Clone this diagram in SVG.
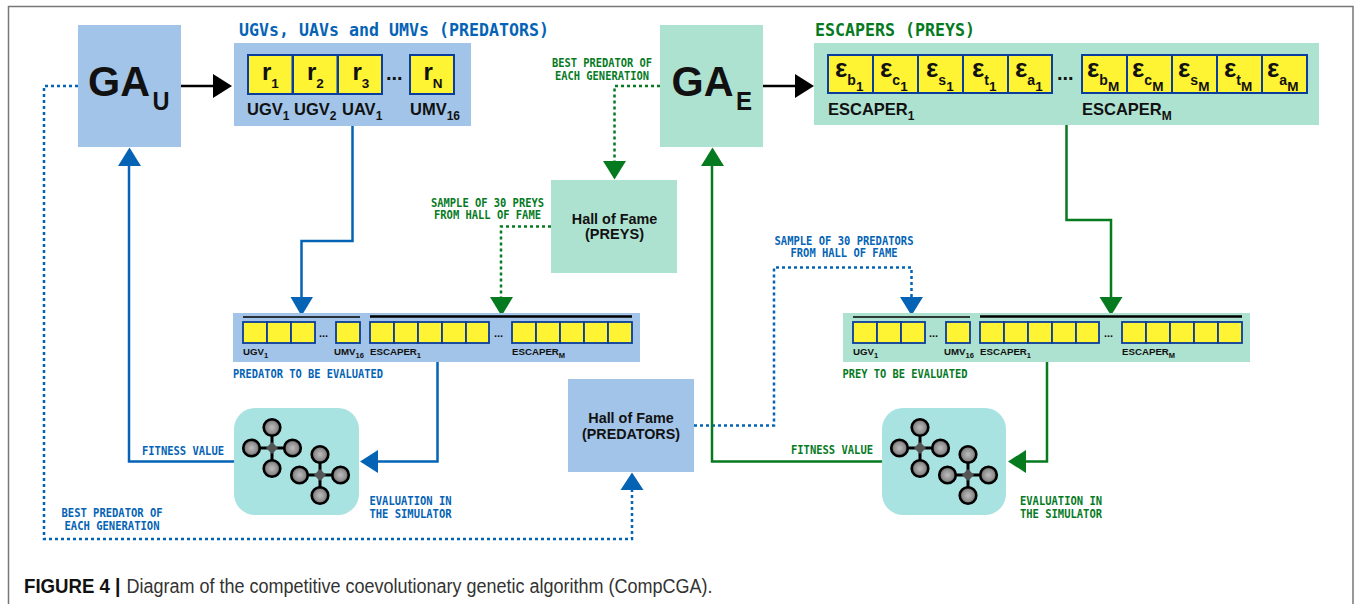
<svg xmlns="http://www.w3.org/2000/svg" width="1354" height="604" viewBox="0 0 1354 604">
<style>
.pb{fill:#a2c4e8}.pg{fill:#aee2d0}.sim{fill:#a8e3e2}
.cell{fill:#fff433;stroke:#0a3d9c;stroke-width:2}
.mini{fill:#fff433;stroke:#0a3d9c;stroke-width:1.800}
text{font-family:"Liberation Sans",Arial,sans-serif;fill:#111}
.ga{font-size:43px;font-weight:700}.gas{font-size:26px;font-weight:700}
.sym{font-size:24px;font-weight:700}.eps{font-size:26px;font-weight:700}
.s1{font-size:13.500px;font-weight:700}.s2{font-size:14px;font-weight:700}
.lab{font-size:16.500px;font-weight:700}.lsub{font-size:12px;font-weight:700}
.ml{font-size:9.700px;font-weight:700}.mls{font-size:7.500px;font-weight:700}
.h{font-size:15.500px;font-weight:700;text-anchor:middle}
.dots{font-size:20px;font-weight:700}.mdots{font-size:11px;font-weight:700}
.title{font-family:"DejaVu Sans Mono",monospace;font-size:17.500px;font-weight:700}
.t{font-family:"DejaVu Sans Mono",monospace;font-size:12px;font-weight:700}
.mid{text-anchor:middle}
.blue{fill:#0563b5}.green{fill:#067a1f}
.cn{fill:none;stroke-width:2.500}
.cb{stroke:#0563b5}.cg{stroke:#067a1f}.ck{stroke:#000}
.dot{stroke-dasharray:3 3}
.hb{fill:#0563b5}.hg{fill:#067a1f}.hk{fill:#000}
.arm{stroke:#000;stroke-width:3}
.ball{fill:url(#ballg);stroke:#000;stroke-width:2.600}
.hub{fill:#555}
.cap{font-size:19.500px;fill:#333}.capb{font-size:19.500px;font-weight:700}
</style>
<defs>
<radialGradient id="ballg"><stop offset="0" stop-color="#bdbdbd"/><stop offset="0.65" stop-color="#8f8f8f"/><stop offset="1" stop-color="#5c5c5c"/></radialGradient>
<g id="drone">
<path class="arm" d="M0-20V20M-20 0H20"/>
<circle class="ball" cx="0" cy="-20.500" r="8.300"/><circle class="ball" cx="0" cy="20.500" r="8.300"/>
<circle class="ball" cx="-20.500" cy="0" r="8.300"/><circle class="ball" cx="20.500" cy="0" r="8.300"/>
<path class="hub" d="M0-6L6 0L0 6L-6 0Z"/>
</g>
<g id="minicells">
<path d="M10 4H127" stroke="#000" stroke-width="1.500"/>
<path d="M137 3.500H399" stroke="#000" stroke-width="2.500"/>
<rect class="mini" x="10" y="9" width="24" height="21"/><rect class="mini" x="34" y="9" width="24" height="21"/><rect class="mini" x="58" y="9" width="24" height="21"/>
<rect class="mini" x="103" y="9" width="24" height="21"/>
<rect class="mini" x="137" y="9" width="24" height="21"/><rect class="mini" x="161" y="9" width="24" height="21"/><rect class="mini" x="185" y="9" width="24" height="21"/><rect class="mini" x="209" y="9" width="24" height="21"/><rect class="mini" x="233" y="9" width="23" height="21"/>
<rect class="mini" x="279" y="9" width="24" height="21"/><rect class="mini" x="303" y="9" width="24" height="21"/><rect class="mini" x="327" y="9" width="24" height="21"/><rect class="mini" x="351" y="9" width="24" height="21"/><rect class="mini" x="375" y="9" width="24" height="21"/>
<text class="mdots" x="86" y="24">...</text><text class="mdots" x="261" y="24">...</text>
<text class="ml" x="10" y="42">UGV<tspan class="mls" dy="3">1</tspan></text>
<text class="ml" x="101" y="42">UMV<tspan class="mls" dy="3">16</tspan></text>
<text class="ml" x="137" y="42">ESCAPER<tspan class="mls" dy="3">1</tspan></text>
<text class="ml" x="279" y="42">ESCAPER<tspan class="mls" dy="3">M</tspan></text>
</g>
</defs>
<rect width="1354" height="604" fill="#fff"/>
<path d="M8.500 604V6.500H1353V604" fill="none" stroke="#777" stroke-width="1.500"/>

<g id="connectors">
<path class="cn ck" d="M181 86H214"/><path class="hk" d="M213 74L232 86L213 98Z"/>
<path class="cn ck" d="M763 86H796"/><path class="hk" d="M795 74L814 86L795 98Z"/>
<path class="cn cb" d="M352.500 126V241H301.500V298"/><path class="hb" d="M290.500 297H313L301.500 316Z"/>
<path class="cn cg dot" d="M660 86H614.500V162"/><path class="hg" d="M603 161H626L614.500 179.500Z"/>
<path class="cn cg dot" d="M551 226.500H501V298"/><path class="hg" d="M490 297H513L501.500 316Z"/>
<path class="cn cb" d="M437.500 362V461.500H377"/><path class="hb" d="M378 450V473L360 461.500Z"/>
<path class="cn cb" d="M234 461.500H129V165"/><path class="hb" d="M118 166H141L129.500 147.500Z"/>
<path class="cn cb dot" d="M78 86H44V539H632V489"/><path class="hb" d="M620.500 490H643.500L632 472.500Z"/>
<path class="cn cg" d="M1066.500 125V220H1111V298"/><path class="hg" d="M1099.500 297H1122.500L1111 315.500Z"/>
<path class="cn cb dot" d="M694 425.500H774V267.500H911.500V298"/><path class="hb" d="M900 297H923L911.500 315.500Z"/>
<path class="cn cg" d="M1047 362V461.500H1025"/><path class="hg" d="M1026 450V473L1008 461.500Z"/>
<path class="cn cg" d="M882 461.500H712V165"/><path class="hg" d="M701 166H724L712.500 147.500Z"/>
</g>

<g id="ga-u"><rect class="pb" x="78" y="25" width="103" height="122"/>
<text class="ga" x="88" y="96" textLength="62" lengthAdjust="spacingAndGlyphs">GA</text><text class="gas" x="152.500" y="110" textLength="17" lengthAdjust="spacingAndGlyphs">U</text></g>

<g id="predators">
<text class="title blue" x="239" y="36" textLength="310" lengthAdjust="spacingAndGlyphs">UGVs, UAVs and UMVs (PREDATORS)</text>
<rect class="pb" x="234" y="43" width="237" height="83"/>
<rect class="cell" x="248" y="55" width="44.500" height="39"/><rect class="cell" x="293" y="55" width="44.500" height="39"/><rect class="cell" x="338" y="55" width="44" height="39"/><rect class="cell" x="410" y="55" width="44" height="39"/>
<text class="sym" x="262" y="80">r<tspan class="s1" dy="8">1</tspan></text>
<text class="sym" x="307" y="80">r<tspan class="s1" dy="8">2</tspan></text>
<text class="sym" x="352.500" y="80">r<tspan class="s1" dy="8">3</tspan></text>
<text class="dots" x="386" y="80">...</text>
<text class="sym" x="423.500" y="80">r<tspan class="s1" dy="8">N</tspan></text>
<text class="lab" x="247" y="115">UGV<tspan class="lsub" dy="5">1</tspan></text>
<text class="lab" x="294" y="115">UGV<tspan class="lsub" dy="5">2</tspan></text>
<text class="lab" x="342" y="115">UAV<tspan class="lsub" dy="5">1</tspan></text>
<text class="lab" x="410" y="115">UMV<tspan class="lsub" dy="5">16</tspan></text>
</g>

<g id="ga-e"><rect class="pg" x="660" y="25" width="103" height="122"/>
<text class="ga" x="671.500" y="96" textLength="62" lengthAdjust="spacingAndGlyphs">GA</text><text class="gas" x="736" y="110" textLength="16" lengthAdjust="spacingAndGlyphs">E</text></g>

<g id="escapers">
<text class="title green" x="815" y="36" textLength="160" lengthAdjust="spacingAndGlyphs">ESCAPERS (PREYS)</text>
<rect class="pg" x="814" y="43" width="505" height="82"/>
<rect class="cell" x="828" y="55" width="45" height="38"/><rect class="cell" x="873" y="55" width="45" height="38"/><rect class="cell" x="918" y="55" width="45" height="38"/><rect class="cell" x="963" y="55" width="45" height="38"/><rect class="cell" x="1008" y="55" width="44" height="38"/>
<rect class="cell" x="1082" y="55" width="45" height="38"/><rect class="cell" x="1127" y="55" width="45" height="38"/><rect class="cell" x="1172" y="55" width="45" height="38"/><rect class="cell" x="1217" y="55" width="45" height="38"/><rect class="cell" x="1262" y="55" width="45" height="38"/>
<text class="eps" x="835" y="77">ε<tspan class="s2" dy="8">b</tspan><tspan class="s1" dy="6">1</tspan></text>
<text class="eps" x="880" y="77">ε<tspan class="s2" dy="8">c</tspan><tspan class="s1" dy="6">1</tspan></text>
<text class="eps" x="926" y="77">ε<tspan class="s2" dy="8">s</tspan><tspan class="s1" dy="6">1</tspan></text>
<text class="eps" x="972" y="77">ε<tspan class="s2" dy="8">t</tspan><tspan class="s1" dy="6">1</tspan></text>
<text class="eps" x="1015" y="77">ε<tspan class="s2" dy="8">a</tspan><tspan class="s1" dy="6">1</tspan></text>
<text class="dots" x="1057" y="80">...</text>
<text class="eps" x="1087" y="77">ε<tspan class="s2" dy="8">b</tspan><tspan class="s1" dy="6">M</tspan></text>
<text class="eps" x="1132" y="77">ε<tspan class="s2" dy="8">c</tspan><tspan class="s1" dy="6">M</tspan></text>
<text class="eps" x="1178" y="77">ε<tspan class="s2" dy="8">s</tspan><tspan class="s1" dy="6">M</tspan></text>
<text class="eps" x="1224" y="77">ε<tspan class="s2" dy="8">t</tspan><tspan class="s1" dy="6">M</tspan></text>
<text class="eps" x="1267" y="77">ε<tspan class="s2" dy="8">a</tspan><tspan class="s1" dy="6">M</tspan></text>
<text class="lab" x="828" y="115">ESCAPER<tspan class="lsub" dy="5">1</tspan></text>
<text class="lab" x="1082" y="115">ESCAPER<tspan class="lsub" dy="5">M</tspan></text>
</g>

<g id="hall-preys"><rect class="pg" x="551" y="180" width="126" height="93"/>
<text class="h" x="614.500" y="224" textLength="85.500" lengthAdjust="spacingAndGlyphs">Hall of Fame</text><text class="h" x="614.500" y="239" textLength="59" lengthAdjust="spacingAndGlyphs">(PREYS)</text></g>
<g id="hall-predators"><rect class="pb" x="568" y="379" width="126" height="93"/>
<text class="h" x="631" y="423" textLength="85.500" lengthAdjust="spacingAndGlyphs">Hall of Fame</text><text class="h" x="631" y="438.500" textLength="98" lengthAdjust="spacingAndGlyphs">(PREDATORS)</text></g>

<g id="predator-eval"><rect class="pb" x="233" y="313" width="407" height="49"/><use href="#minicells" x="233" y="313"/>
<text class="t blue" x="233" y="377.500" textLength="150" lengthAdjust="spacingAndGlyphs">PREDATOR TO BE EVALUATED</text></g>
<g id="prey-eval"><rect class="pg" x="843" y="313" width="407" height="49"/><use href="#minicells" x="843" y="313"/>
<text class="t green" x="842.500" y="377.500" textLength="125" lengthAdjust="spacingAndGlyphs">PREY TO BE EVALUATED</text></g>

<g id="sim-predators"><rect class="sim" x="234" y="408" width="125" height="107" rx="21"/><use href="#drone" x="272" y="448"/><use href="#drone" x="320" y="475"/></g>
<g id="sim-preys"><rect class="sim" x="882" y="408" width="124" height="107" rx="21"/><use href="#drone" x="920" y="448"/><use href="#drone" x="968" y="475"/></g>

<g id="labels">
<text class="t green mid" x="602" y="67" textLength="100" lengthAdjust="spacingAndGlyphs">BEST PREDATOR OF</text><text class="t green mid" x="602" y="79.500" textLength="94" lengthAdjust="spacingAndGlyphs">EACH GENERATION</text>
<text class="t green mid" x="487.500" y="207" textLength="113" lengthAdjust="spacingAndGlyphs">SAMPLE OF 30 PREYS</text><text class="t green mid" x="487.500" y="219" textLength="107" lengthAdjust="spacingAndGlyphs">FROM HALL OF FAME</text>
<text class="t blue mid" x="844" y="244.500" textLength="139" lengthAdjust="spacingAndGlyphs">SAMPLE OF 30 PREDATORS</text><text class="t blue mid" x="844" y="257" textLength="107" lengthAdjust="spacingAndGlyphs">FROM HALL OF FAME</text>
<text class="t blue" x="142" y="455" textLength="82" lengthAdjust="spacingAndGlyphs">FITNESS VALUE</text>
<text class="t green" x="791" y="454" textLength="82" lengthAdjust="spacingAndGlyphs">FITNESS VALUE</text>
<text class="t blue" x="369.500" y="505" textLength="82" lengthAdjust="spacingAndGlyphs">EVALUATION IN</text><text class="t blue" x="369.500" y="517.500" textLength="82" lengthAdjust="spacingAndGlyphs">THE SIMULATOR</text>
<text class="t green" x="1020" y="505" textLength="82" lengthAdjust="spacingAndGlyphs">EVALUATION IN</text><text class="t green" x="1020" y="517.500" textLength="82" lengthAdjust="spacingAndGlyphs">THE SIMULATOR</text>
<text class="t blue mid" x="112" y="517" textLength="101" lengthAdjust="spacingAndGlyphs">BEST PREDATOR OF</text><text class="t blue mid" x="112" y="530" textLength="95" lengthAdjust="spacingAndGlyphs">EACH GENERATION</text>
</g>

<g id="caption"><text class="capb" x="24" y="592.500" textLength="86" lengthAdjust="spacingAndGlyphs">FIGURE 4</text><text class="capb" x="115" y="592.500">|</text><text class="cap" x="126.500" y="592.500" textLength="586" lengthAdjust="spacingAndGlyphs">Diagram of the competitive coevolutionary genetic algorithm (CompCGA).</text></g>
</svg>
